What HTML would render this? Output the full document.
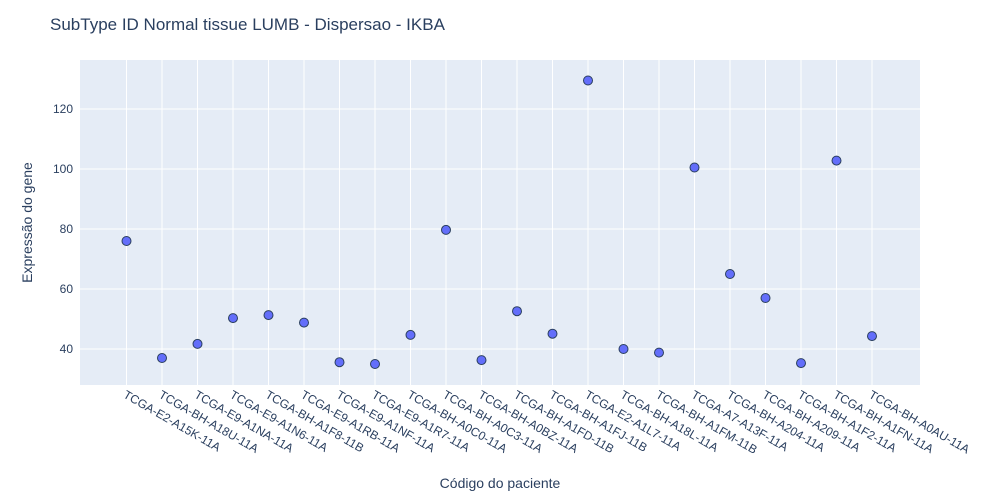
<!DOCTYPE html>
<html><head><meta charset="utf-8"><style>
body{margin:0;background:#fff;font-family:"Liberation Sans",Arial,sans-serif}
</style></head><body>
<svg id="chart" width="1000" height="500" style="display:block">
<rect width="1000" height="500" fill="#fff"/>
<text x="50" y="30" font-size="17" fill="#2a3f5f">SubType ID Normal tissue LUMB - Dispersao - IKBA</text>
<rect x="80" y="60" width="840" height="325" fill="#e5ecf6"/>
<g id="grid"></g><g id="yticks"></g><g id="xticks"></g><g id="points"></g>
<text x="0" y="0" transform="translate(32,222.5) rotate(-90)" text-anchor="middle" font-size="14" fill="#2a3f5f">Expressão do gene</text>
<text x="500" y="488" text-anchor="middle" font-size="14" fill="#2a3f5f">Código do paciente</text>
</svg>
<script>
const categories=["TCGA-E2-A15K-11A","TCGA-BH-A18U-11A","TCGA-E9-A1NA-11A","TCGA-E9-A1N6-11A","TCGA-BH-A1F8-11B","TCGA-E9-A1RB-11A","TCGA-E9-A1NF-11A","TCGA-E9-A1R7-11A","TCGA-BH-A0C0-11A","TCGA-BH-A0C3-11A","TCGA-BH-A0BZ-11A","TCGA-BH-A1FD-11B","TCGA-BH-A1FJ-11B","TCGA-E2-A1L7-11A","TCGA-BH-A18L-11A","TCGA-BH-A1FM-11B","TCGA-A7-A13F-11A","TCGA-BH-A204-11A","TCGA-BH-A209-11A","TCGA-BH-A1F2-11A","TCGA-BH-A1FN-11A","TCGA-BH-A0AU-11A"];
const values=[76,37,41.7,50.3,51.3,48.8,35.6,35,44.7,79.7,36.3,52.6,45.1,129.5,40,38.8,100.5,65,57,35.3,102.8,44.3];
const yTicks=[40,60,80,100,120];
const NS="http://www.w3.org/2000/svg";
function xS(i){return 126.5+i*35.5;}
function yS(v){return 469-3*v;}
function mk(t,a,p){const e=document.createElementNS(NS,t);for(const k in a)e.setAttribute(k,a[k]);p.appendChild(e);return e;}
const grid=document.getElementById('grid'),yt=document.getElementById('yticks'),xt=document.getElementById('xticks'),pts=document.getElementById('points');
yTicks.forEach(v=>{
 const l=mk('line',{x1:80,x2:920,y1:yS(v),y2:yS(v),stroke:'#fff','stroke-width':1},grid);
 
 
 const t=mk('text',{x:73,y:yS(v)+4,'text-anchor':'end','font-size':12,fill:'#2a3f5f'},yt);
 t.textContent=v;
 
 
});
categories.forEach((c,i)=>{
 const x=xS(i);
 const l=mk('line',{x1:x,x2:x,y1:60,y2:385,stroke:'#fff','stroke-width':1},grid);
 
 
 const t=mk('text',{x:0,y:0,transform:`translate(${x-4},${397}) rotate(30)`,'font-size':12,fill:'#2a3f5f'},xt);
 t.textContent=c;
 
 
 const p=mk('circle',{cx:x,cy:yS(values[i]),r:4.5,fill:'#636efa',stroke:'#2a3f5f','stroke-width':1},pts);
 
 
});
</script>
</body></html>
